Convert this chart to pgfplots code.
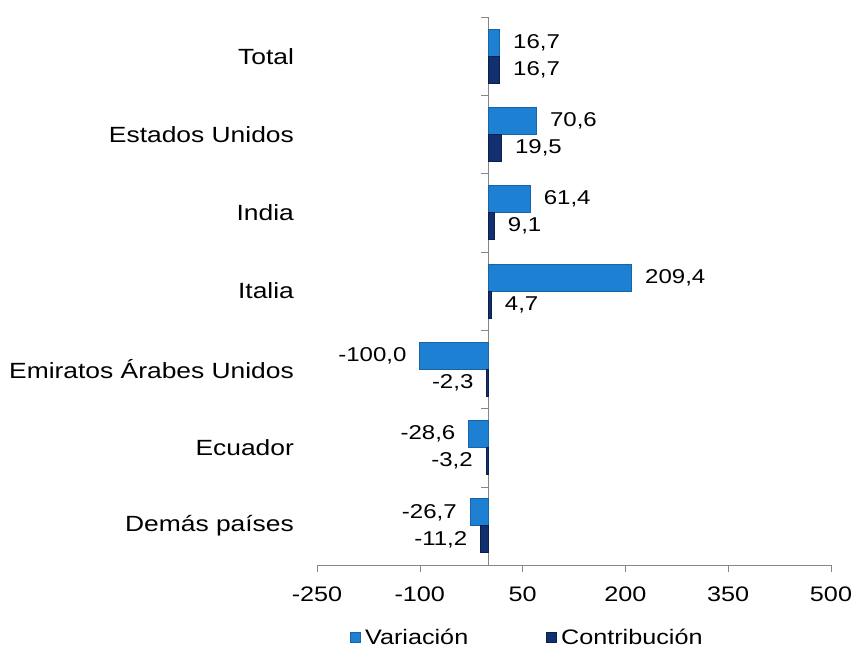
\documentclass[border=0pt]{standalone}
\usepackage{fontspec}
\setmainfont[FakeStretch=1.2]{Liberation Sans}
\usepackage{pgfplots}
\pgfplotsset{compat=1.18}
\definecolor{varblue}{HTML}{1E80D2}
\definecolor{varedge}{HTML}{1765A8}
\definecolor{connavy}{HTML}{12306F}
\definecolor{conedge}{HTML}{0B1F4D}
\definecolor{axisgray}{HTML}{868686}
\begin{document}
\begin{tikzpicture}
\path[use as bounding box] (0,0) rectangle (428.5pt,324pt);
\begin{axis}[
  at={(158.5pt,41.5pt)}, anchor=south west,
  scale only axis, width=257pt, height=274pt,
  font=\fontsize{10.5}{12}\selectfont,
  /pgf/number format/assume math mode=true,
  xbar, bar width=13.5pt,
  xmin=-250, xmax=500, xtick={-250,-100,50,200,350,500},
  xticklabel style={yshift=-4pt},
  ymin=-0.5, ymax=6.5, y dir=reverse,
  axis x line=bottom, axis y line=middle,
  axis line style={-, draw=axisgray},
  tick style={draw=axisgray},
  tick align=outside, major tick length=3.5pt,
  ytick={-0.5,0.5,...,6.5}, yticklabels={},
  extra y ticks={0,1,2,3,4,5,6},
  extra y tick labels={Total, Estados Unidos, India, Italia, Emiratos Árabes Unidos, Ecuador, Demás países},
  extra y tick style={major tick length=0pt, tick label style={xshift=-93.7pt, font=\fontsize{11}{12}\selectfont}},
  point meta=x,
  nodes near coords={\pgfmathprintnumber[fixed,fixed zerofill,precision=1,use comma]{\pgfplotspointmeta}},
  nodes near coords align=horizontal,
  every node near coord/.append style={font=\fontsize{10}{12}\selectfont, text=black, inner xsep=6.5pt},
  legend style={at={(0.064,-0.133)}, anchor=west, draw=none, legend columns=2,
    font=\fontsize{10.5}{12}\selectfont, inner sep=0pt,
    /tikz/every even column/.append style={column sep=37pt}},
  legend image code/.code={\fill[#1] (0pt,-2.5pt) rectangle (5pt,2.5pt);},
]
\addplot[fill=varblue, draw=varedge, bar shift=6.75pt] coordinates {
  (16.7,0) (70.6,1) (61.4,2) (209.4,3) (-100.0,4) (-28.6,5) (-26.7,6)};
\addplot[fill=connavy, draw=conedge, bar shift=-6.75pt] coordinates {
  (16.7,0) (19.5,1) (9.1,2) (4.7,3) (-2.3,4) (-3.2,5) (-11.2,6)};
\legend{Variación, Contribución}
\end{axis}
\end{tikzpicture}
\end{document}
